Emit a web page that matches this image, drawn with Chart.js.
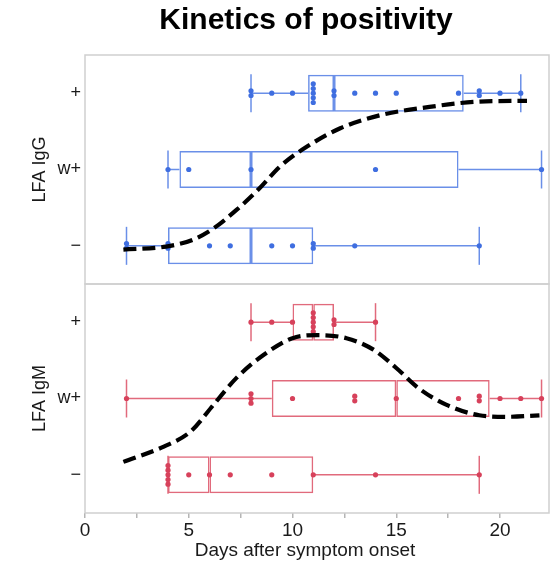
<!DOCTYPE html>
<html>
<head>
<meta charset="utf-8">
<script src="https://cdn.jsdelivr.net/npm/chart.js@4.4.1/dist/chart.umd.min.js"></script>
<style>
  html, body { margin: 0; padding: 0; background: #ffffff; }
  #wrap { width: 551px; height: 569px; }
</style>
</head>
<body>
<div id="wrap"><canvas id="c" width="551" height="569"></canvas></div>
<script>
// ---------------- data ----------------
const chartTitle = 'Kinetics of positivity';
const xAxisTitle = 'Days after symptom onset';
const levelLabels = ['\u2212', 'w+', '+'];          // level index 0,1,2
const xTickValues = [0, 2.5, 5, 7.5, 10, 12.5, 15, 17.5, 20];
const xLabelValues = [0, 5, 10, 15, 20];

// individual observations (days) per level
const iggNegDays  = [2, 2, 4, 4, 6, 7, 9, 10, 11, 11, 13, 19];
const iggWeakDays = [4, 5, 8, 14, 22];
const iggPosDays  = [8, 8, 9, 10, 11, 11, 11, 11, 11, 12, 12, 13, 14, 15, 18, 19, 19, 20, 21];

const igmNegDays  = [4, 4, 4, 4, 4, 5, 6, 7, 9, 11, 14, 19];
const igmWeakDays = [2, 8, 8, 8, 10, 13, 13, 15, 18, 19, 19, 20, 21, 22];
const igmPosDays  = [8, 9, 10, 11, 11, 11, 11, 11, 12, 12, 14];

// box statistics per level: [whiskerLow, q1, median, q3, whiskerHigh]
const iggBoxNeg  = [2, 4, 8, 11, 19];
const iggBoxWeak = [4, 4.55, 8, 18, 22];
const iggBoxPos  = [8, 10.75, 12, 18.25, 21];
const igmBoxNeg  = [4, 4, 6, 11, 19];
const igmBoxWeak = [2, 9, 15, 19.5, 22];
const igmBoxPos  = [8, 10, 11, 12, 14];

// dashed trend curves (day, level)
const iggCurveDays  = [1.85, 3.9, 5.2, 6.2, 7.3, 8.4, 9.4, 10.7, 12.3, 14.2, 16.6, 19.0, 21.3];
const iggCurveLevel = [-0.05, -0.01, 0.08, 0.23, 0.47, 0.75, 1.04, 1.30, 1.54, 1.71, 1.82, 1.89, 1.90];
const igmCurveDays  = [1.85, 3.8, 5.1, 6.2, 7.3, 8.6, 10.0, 11.2, 12.6, 13.9, 15.0, 16.1, 17.4, 19.0, 20.3, 21.9];
const igmCurveLevel = [0.17, 0.37, 0.57, 0.92, 1.27, 1.57, 1.79, 1.83, 1.79, 1.64, 1.40, 1.13, 0.92, 0.78, 0.76, 0.78];

// ---------------- styling ----------------
const FONT = "'Liberation Sans', Arial, Helvetica, sans-serif";
Chart.defaults.font.family = FONT;
Chart.defaults.color = '#1a1a1a';

const BLUE_DOT = '#3f6ee0';
const BLUE_BOX = '#6a8fe8';
const RED_DOT = '#d7415b';
const RED_BOX = '#e16a7c';
const FRAME = '#cfcfcf';
const DOT_GAP = 0.061; // vertical stacking step for equal values, in level units

function stackedDots(daysByLevel) {
  const pts = [];
  daysByLevel.forEach((days, lvl) => {
    const counts = {};
    days.forEach(d => { counts[d] = (counts[d] || 0) + 1; });
    Object.keys(counts).forEach(k => {
      const n = counts[k];
      for (let i = 0; i < n; i++) {
        pts.push({ x: Number(k), y: lvl + (i - (n - 1) / 2) * DOT_GAP });
      }
    });
  });
  return pts;
}

function boxHalf(boxes, lowIdx, highIdx) {
  return boxes.map((b, lvl) => ({ y: lvl, x: [b[lowIdx], b[highIdx]] }));
}

function whiskers(boxes) {
  const pts = [];
  boxes.forEach((b, lvl) => {
    pts.push({ x: b[0], y: lvl }, { x: b[1], y: lvl }, { x: b[1], y: null });
    pts.push({ x: b[3], y: lvl }, { x: b[4], y: lvl }, { x: b[4], y: null });
  });
  return pts;
}

function caps(boxes) {
  const pts = [];
  boxes.forEach((b, lvl) => { pts.push({ x: b[0], y: lvl }, { x: b[4], y: lvl }); });
  return pts;
}

function curve(days, levels) {
  return days.map((d, i) => ({ x: d, y: levels[i] }));
}

function panelDatasets(axisId, boxes, daysByLevel, curveDays, curveLevels, dotColor, boxColor) {
  return [
    {
      type: 'line', yAxisID: axisId, data: curve(curveDays, curveLevels),
      borderColor: '#000000', borderWidth: 4.2, borderDash: [13, 6], borderCapStyle: 'butt',
      pointRadius: 0, cubicInterpolationMode: 'monotone', fill: false, order: 0, clip: false
    },
    {
      type: 'scatter', yAxisID: axisId, data: stackedDots(daysByLevel),
      backgroundColor: dotColor, borderColor: dotColor, borderWidth: 0, pointRadius: 2.6, order: 1
    },
    {
      type: 'scatter', yAxisID: axisId, data: caps(boxes),
      pointStyle: 'line', rotation: 90, pointRadius: 19, borderColor: boxColor, borderWidth: 1.5, order: 2
    },
    {
      type: 'line', yAxisID: axisId, data: whiskers(boxes), spanGaps: false,
      borderColor: boxColor, borderWidth: 1.5, pointRadius: 0, tension: 0, fill: false, order: 3
    },
    {
      type: 'bar', indexAxis: 'y', xAxisID: 'x', yAxisID: axisId, data: boxHalf(boxes, 1, 2),
      grouped: false, categoryPercentage: 1, barPercentage: 0.485,
      backgroundColor: 'rgba(0,0,0,0)', borderColor: boxColor, borderWidth: 1.5, borderSkipped: false, order: 4
    },
    {
      type: 'bar', indexAxis: 'y', xAxisID: 'x', yAxisID: axisId, data: boxHalf(boxes, 2, 3),
      grouped: false, categoryPercentage: 1, barPercentage: 0.485,
      backgroundColor: 'rgba(0,0,0,0)', borderColor: boxColor, borderWidth: 1.5, borderSkipped: false, order: 4
    }
  ];
}

const iggBoxes = [iggBoxNeg, iggBoxWeak, iggBoxPos];
const igmBoxes = [igmBoxNeg, igmBoxWeak, igmBoxPos];

const datasets = [].concat(
  panelDatasets('yG', iggBoxes, [iggNegDays, iggWeakDays, iggPosDays], iggCurveDays, iggCurveLevel, BLUE_DOT, BLUE_BOX),
  panelDatasets('yM', igmBoxes, [igmNegDays, igmWeakDays, igmPosDays], igmCurveDays, igmCurveLevel, RED_DOT, RED_BOX)
);

function levelAxis(title) {
  return {
    type: 'linear', position: 'left', stack: 'panels', stackWeight: 1,
    min: -0.5, max: 2.5, offset: false,
    afterBuildTicks: s => { s.ticks = [0, 1, 2].map(v => ({ value: v })); },
    afterFit: s => { s.width = 85; },
    ticks: {
      callback: v => levelLabels[v], font: { size: 18 }, color: '#1a1a1a', padding: 4,
      autoSkip: false
    },
    grid: { display: false, drawTicks: false, offset: false },
    border: { display: false },
    title: { display: true, text: title, font: { size: 18 }, color: '#1a1a1a', padding: { top: 29, bottom: 0 } }
  };
}

const framePlugin = {
  id: 'frames',
  beforeDatasetsDraw(chart) {
    const ctx = chart.ctx;
    const a = chart.chartArea;
    ctx.save();
    ctx.strokeStyle = FRAME;
    ctx.lineWidth = 1.5;
    ['yG', 'yM'].forEach(id => {
      const s = chart.scales[id];
      ctx.strokeRect(a.left, s.top, a.right - a.left, s.bottom - s.top);
    });
    ctx.restore();
  }
};

const textPlugin = {
  id: 'texts',
  afterDraw(chart) {
    const ctx = chart.ctx;
    ctx.save();
    ctx.textAlign = 'center';
    ctx.textBaseline = 'middle';
    ctx.fillStyle = '#000000';
    ctx.font = 'bold 30px ' + FONT;
    ctx.fillText(chartTitle, 306, 21);
    ctx.fillStyle = '#1a1a1a';
    ctx.font = '19px ' + FONT;
    ctx.fillText(xAxisTitle, 305, 551);
    ctx.restore();
  }
};

new Chart(document.getElementById('c'), {
  type: 'scatter',
  data: { datasets },
  plugins: [framePlugin, textPlugin],
  options: {
    responsive: false,
    animation: false,
    events: [],
    layout: { autoPadding: false, padding: { left: 0, right: 2, top: 55, bottom: 0 } },
    plugins: {
      legend: { display: false },
      tooltip: { enabled: false },
      title: { display: false }
    },
    scales: {
      x: {
        type: 'linear', min: 0, max: 22.36, stacked: false, offset: false,
        afterBuildTicks: s => { s.ticks = xTickValues.map(v => ({ value: v })); },
        afterFit: s => { s.height = 56; },
        ticks: {
          callback: v => (xLabelValues.includes(v) ? String(v) : ''),
          autoSkip: false, maxRotation: 0, font: { size: 19 }, color: '#1a1a1a', padding: 1
        },
        grid: { drawOnChartArea: false, drawTicks: true, tickLength: 5, color: '#b5b5b5', lineWidth: 1.5, offset: false },
        border: { display: false },
        title: { display: false }
      },
      yM: levelAxis('LFA IgM'),
      yG: levelAxis('LFA IgG')
    }
  }
});
</script>
</body>
</html>
